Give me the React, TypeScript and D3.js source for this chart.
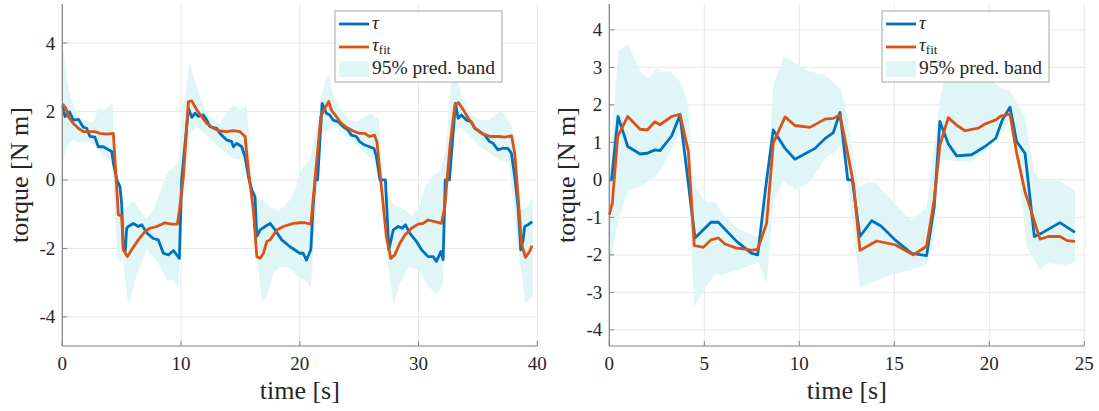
import React from 'react';
import * as d3 from 'd3';

type Pt = [number, number];

// left panel: 40 s run
const leftTau: Pt[] = [
  [0.03, 2.16], [0.23, 1.85], [0.6, 1.99], [0.93, 1.75], [1.35, 1.77], [1.77, 1.54], [2.05, 1.51],
  [2.33, 1.27], [2.75, 1.25], [3.03, 0.97], [3.45, 0.97], [4.16, 0.83], [4.3, 0.5], [4.6, 0],
  [4.86, -0.2], [5.0, -0.7], [5.14, -2.04], [5.3, -2.09], [5.42, -1.41], [5.56, -1.36], [5.98, -1.27],
  [6.4, -1.36], [6.68, -1.31], [7.16, -1.56], [7.66, -1.71], [8.08, -1.75], [8.51, -2.14], [8.93, -2.19],
  [9.36, -2.06], [9.86, -2.29], [10.05, 0], [10.62, 2.09], [10.9, 1.83], [11.18, 1.95], [11.46, 1.86],
  [11.88, 1.9], [12.16, 1.75], [12.44, 1.56], [13.0, 1.51], [13.28, 1.36], [13.84, 1.17], [14.26, 1.12],
  [14.41, 0.97], [14.69, 1.07], [15.11, 0.97], [15.39, 0.68], [15.67, 0.1], [15.95, -0.29], [16.23, -0.49],
  [16.38, -1.65], [16.66, -1.46], [17.08, -1.36], [17.5, -1.27], [17.92, -1.46], [18.48, -1.75],
  [19.18, -1.95], [20.0, -2.14], [20.28, -2.14], [20.56, -2.34], [20.93, -2.04], [21.12, -0.78],
  [21.3, 0], [21.5, 0], [21.88, 2.24], [22.24, 1.95], [22.52, 1.9], [22.8, 1.75], [23.22, 1.7],
  [23.64, 1.56], [24.06, 1.46], [24.34, 1.31], [24.76, 1.27], [25.04, 1.12], [25.46, 1.02], [25.88, 0.97],
  [26.25, 0.92], [26.45, 0.68], [26.75, 0], [27.21, 0], [27.5, -2.04], [27.87, -1.46], [28.29, -1.36],
  [28.62, -1.41], [28.9, -1.31], [29.27, -1.56], [29.83, -1.8], [30.25, -2.04], [30.81, -2.24],
  [31.23, -2.24], [31.51, -2.38], [31.88, -2.09], [32.07, -2.33], [32.25, 0], [32.6, 0], [33.11, 2.24],
  [33.33, 1.8], [33.61, 1.9], [34.03, 1.75], [34.45, 1.7], [34.73, 1.51], [35.15, 1.41], [35.57, 1.31],
  [35.99, 1.12], [36.27, 1.07], [36.69, 0.88], [37.03, 0.92], [37.53, 0.92], [37.82, 0.78], [38.1, 0.1],
  [38.38, -0.78], [38.61, -2.04], [38.8, -1.75], [38.94, -1.36], [39.22, -1.31], [39.57, -1.22],
];

const leftFit: Pt[] = [
  [0.03, 2.22], [0.31, 2.09], [0.51, 1.85], [0.93, 1.65], [1.35, 1.51], [1.77, 1.41], [2.33, 1.41],
  [2.75, 1.41], [3.17, 1.36], [3.73, 1.34], [4.3, 1.36], [4.72, -1.02], [5.0, -1.05], [5.14, -2.04],
  [5.48, -2.24], [5.84, -2.04], [6.4, -1.75], [6.96, -1.51], [7.38, -1.41], [7.94, -1.36], [8.65, -1.25],
  [9.21, -1.29], [9.69, -1.29], [9.86, -0.9], [10.2, 0.1], [10.62, 2.29], [10.9, 2.31], [11.32, 2.05],
  [11.74, 1.85], [12.16, 1.65], [12.72, 1.51], [13.28, 1.43], [13.84, 1.41], [14.41, 1.44], [14.97, 1.41],
  [15.39, 1.27], [15.67, 0.29], [16.09, -0.88], [16.38, -2.24], [16.66, -2.29], [16.94, -2.14],
  [17.22, -1.8], [17.5, -1.75], [18.06, -1.46], [18.62, -1.36], [19.46, -1.27], [20.0, -1.25],
  [20.42, -1.25], [20.93, -1.29], [21.2, -0.29], [21.77, 1.85], [22.1, 2.09], [22.44, 2.29], [22.66, 2.04],
  [23.08, 1.85], [23.5, 1.65], [24.06, 1.51], [24.62, 1.41], [25.04, 1.36], [25.46, 1.36], [25.88, 1.27],
  [26.3, 1.31], [26.5, 1.1], [26.87, -0.2], [27.29, -1.65], [27.66, -2.29], [28.0, -2.19], [28.43, -1.85],
  [28.85, -1.61], [29.41, -1.41], [29.97, -1.29], [30.39, -1.27], [30.81, -1.17], [31.37, -1.22],
  [31.93, -1.27], [32.21, -0.78], [32.64, 0.97], [33.06, 2.19], [33.36, 2.26], [33.78, 2.04], [34.2, 1.8],
  [34.76, 1.51], [35.32, 1.36], [36.02, 1.27], [36.72, 1.27], [37.28, 1.25], [37.84, 1.29], [38.1, 0.78],
  [38.45, -0.78], [38.66, -1.85], [39.0, -2.26], [39.35, -2.09], [39.55, -1.92],
];

const leftUpper: Pt[] = [
  [0.03, 3.95], [0.37, 2.95], [0.65, 2.51], [1.07, 2.07], [1.49, 1.78], [2.05, 1.73], [2.61, 1.68],
  [3.03, 2.09], [3.59, 2.05], [4.24, 2.25], [4.38, 0.58], [4.72, -0.29], [5.0, -0.88], [5.42, -0.78],
  [5.98, -0.63], [6.54, -0.88], [7.1, -1.12], [7.66, -0.88], [8.22, -0.39], [8.79, 0.19], [9.49, 0.39],
  [9.86, 0.58], [10.2, 2.04], [10.7, 3.46], [11.04, 3.02], [11.6, 2.43], [12.16, 1.95], [12.72, 1.75],
  [13.28, 1.65], [13.84, 1.95], [14.41, 2.19], [14.97, 2.04], [15.53, 2.19], [15.95, 0.1], [16.38, -0.58],
  [16.94, -0.58], [17.5, -0.78], [18.06, -0.92], [18.62, -0.78], [19.18, -0.58], [19.7, -0.2],
  [20.0, 0.2], [20.28, 0.39], [20.84, 0.58], [21.6, 1.95], [22.02, 2.77], [22.44, 3.12], [22.86, 2.43],
  [23.42, 2.09], [24.12, 1.75], [24.82, 1.7], [25.38, 1.85], [25.94, 1.95], [26.36, 1.8], [26.65, 1.85],
  [26.93, 0.19], [27.35, -0.39], [27.91, -0.73], [28.34, -0.78], [28.9, -0.88], [29.46, -1.07],
  [30.02, -0.78], [30.58, -0.19], [31.14, 0.1], [31.84, 0.29], [32.26, 0.78], [32.82, 3.1], [33.25, 2.92],
  [33.67, 2.43], [34.23, 1.99], [35.08, 1.75], [35.92, 1.75], [36.62, 1.95], [37.04, 1.99], [37.88, 1.56],
  [38.16, 0.58], [38.58, -0.88], [39.14, -0.78], [39.61, -0.49],
];

const leftLower: Pt[] = [
  [0.03, 0.49], [0.37, 0.97], [0.93, 1.17], [1.49, 1.09], [2.33, 1.12], [2.89, 0.97], [3.45, 0.68],
  [4.16, 0.58], [4.63, -2.14], [4.86, -2.43], [5.1, -2.3], [5.56, -3.65], [5.98, -3.11], [6.54, -2.53],
  [7.1, -2.04], [7.94, -2.34], [8.79, -2.92], [9.35, -2.92], [9.77, -3.16], [9.92, -2.14], [10.26, 0],
  [10.76, 1.36], [11.32, 1.56], [12.16, 1.31], [13.28, 0.92], [14.41, 0.63], [15.25, 0.58], [15.5, 0.5],
  [16.09, -1.36], [16.52, -2.63], [16.8, -3.55], [17.22, -3.41], [17.78, -2.73], [18.34, -2.53],
  [19.18, -2.58], [20.0, -2.87], [20.42, -2.92], [20.93, -3.16], [21.4, -0.78], [21.8, 1.36], [22.4, 1.46],
  [22.97, 1.6], [23.81, 1.31], [24.93, 0.97], [25.78, 0.68], [26.6, 0.58], [27.35, -2.34], [27.91, -3.65],
  [28.34, -3.11], [29.18, -2.53], [30.02, -2.63], [30.86, -3.11], [31.56, -3.36], [32.04, -3.07],
  [32.26, -1.17], [32.82, 1.27], [33.39, 1.56], [34.23, 1.31], [35.36, 0.92], [36.76, 0.58], [37.6, 0.53],
  [38.44, -2.14], [39.0, -3.6], [39.61, -3.41],
];

// right panel: 25 s run
const rightTau: Pt[] = [
  [0, 0], [0.12, 0], [0.46, 1.69], [0.97, 0.89], [1.62, 0.69], [2.0, 0.71], [2.4, 0.8], [2.67, 0.78],
  [3.28, 1.17], [3.72, 1.73], [4.51, -1.55], [5.35, -1.13], [5.74, -1.13], [6.7, -1.64], [7.49, -1.96],
  [7.81, -2.0], [8.28, 0], [8.63, 1.33], [9.25, 0.84], [9.77, 0.55], [10.83, 0.84], [11.35, 1.1],
  [11.79, 1.26], [12.14, 1.8], [12.55, 0], [12.79, 0], [13.19, -1.51], [13.81, -1.09], [14.3, -1.23],
  [15.04, -1.6], [15.91, -1.96], [16.7, -2.02], [17.1, -0.71], [17.4, 1.56], [17.84, 0.96], [18.28, 0.64],
  [19.07, 0.67], [19.77, 0.89], [20.34, 1.11], [20.69, 1.6], [21.09, 1.94], [21.44, 1.02], [21.88, 0.71],
  [22.37, -1.51], [22.76, -1.42], [23.72, -1.14], [24.51, -1.4],
];

const rightFit: Pt[] = [
  [0, -0.93], [0.16, -0.62], [0.44, 1.16], [0.97, 1.69], [1.62, 1.35], [2.0, 1.33], [2.4, 1.55],
  [2.67, 1.47], [3.28, 1.69], [3.72, 1.75], [4.16, 0.76], [4.47, -1.75], [4.95, -1.8], [5.35, -1.6],
  [5.74, -1.55], [6.09, -1.71], [6.7, -1.82], [7.23, -1.85], [7.49, -1.88], [7.81, -1.85], [8.28, -1.16],
  [8.63, 0.98], [9.25, 1.68], [9.77, 1.45], [10.56, 1.4], [11.35, 1.62], [11.79, 1.64], [12.14, 1.73],
  [12.58, 0.62], [12.85, -0.1], [13.19, -1.88], [14.07, -1.63], [15.04, -1.73], [16.0, -2.0],
  [16.7, -1.77], [17.1, -0.53], [17.4, 0.92], [17.84, 1.66], [18.28, 1.46], [18.72, 1.31], [19.42, 1.38],
  [19.77, 1.49], [20.34, 1.6], [20.6, 1.7], [21.09, 1.75], [21.44, 0.71], [21.88, -0.32], [22.67, -1.58],
  [23.1, -1.51], [23.72, -1.51], [24.1, -1.62], [24.51, -1.64],
];

const rightUpper: Pt[] = [
  [0, 0.1], [0.47, 3.42], [1.0, 3.63], [1.62, 2.89], [2.05, 2.71], [2.49, 2.98], [2.75, 2.89],
  [3.19, 2.89], [3.72, 2.62], [4.14, 2.05], [4.42, -0.09], [5.04, -0.58], [5.56, -0.58], [6.09, -0.98],
  [6.77, -1.29], [7.3, -1.42], [7.83, -1.51], [8.28, -0.5], [8.63, 2.52], [9.16, 3.29], [9.95, 3.06],
  [10.56, 2.89], [11.35, 2.8], [12.14, 2.44], [12.4, 2.04], [13.1, -0.2], [13.6, -0.06], [14.07, -0.1],
  [15.04, -0.64], [15.9, -1.08], [16.7, -0.73], [17.1, 0.9], [17.4, 2.13], [17.66, 2.71], [18.37, 2.93],
  [19.6, 2.84], [20.5, 2.49], [21.09, 2.36], [21.88, 1.69], [22.37, 0.2], [22.76, -0.03], [23.72, -0.03],
  [24.51, -0.27],
];

const rightLower: Pt[] = [
  [0, -2.36], [0.47, -1.07], [1.0, -0.28], [1.54, -0.18], [2.4, 0.05], [2.75, 0.3], [3.19, 0.75],
  [3.72, 1.3], [4.1, 0.3], [4.47, -3.38], [5.0, -2.9], [5.56, -2.51], [5.8, -2.55], [6.77, -2.4],
  [7.3, -2.3], [7.83, -2.2], [8.28, -2.76], [8.63, -0.58], [9.16, -0.04], [9.86, -0.27], [10.56, -0.04],
  [11.44, 0.62], [11.9, 0.75], [12.14, 0.9], [12.5, 0.3], [13.19, -2.89], [13.98, -2.7], [15.04, -2.49],
  [15.9, -2.4], [16.7, -2.27], [17.1, -1.5], [17.4, 0.53], [17.84, 0.53], [18.37, 0.49], [19.07, 0.49],
  [19.77, 0.76], [20.34, 1.02], [21.09, 1.64], [21.44, 0.8], [21.97, -1.78], [22.67, -2.4], [23.1, -2.22],
  [23.98, -2.27], [24.51, -2.2],
];

const leftXTicks = [0, 10, 20, 30, 40];
const leftYTicks = [-4, -2, 0, 2, 4];
const rightXTicks = [0, 5, 10, 15, 20, 25];
const rightYTicks = [-4, -3, -2, -1, 0, 1, 2, 3, 4];

const legendLabels = ['τ', 'fit', '95% pred. band'];

const BLUE = '#0072BD';
const ORANGE = '#D95319';
const BAND = '#e0f5f5';
const GRID = '#e6e6e6';
const AXIS = '#808080';
const TEXT = '#262626';
const FONT = "'Liberation Serif', 'Times New Roman', 'DejaVu Serif', Times, serif";

type PanelProps = {
  x0: number;
  x1: number;
  xDomain: [number, number];
  yDomain: [number, number];
  xTicks: number[];
  yTicks: number[];
  tau: Pt[];
  fit: Pt[];
  upper: Pt[];
  lower: Pt[];
  legendX: number;
  labelX: number;
};

function Panel(p: PanelProps) {
  const top = 4;
  const bottom = 346;
  const x = d3.scaleLinear().domain(p.xDomain).range([p.x0, p.x1]);
  const y = d3.scaleLinear().domain(p.yDomain).range([bottom, top]);
  const line = d3
    .line<Pt>()
    .x((d) => x(d[0]))
    .y((d) => y(d[1]));
  const band = line(p.upper.concat(p.lower.slice().reverse())) + 'Z';
  const lx = p.legendX;

  return (
    <g style={{ fontFamily: FONT }}>
      {p.xTicks.map((t) => (
        <line key={'gx' + t} x1={x(t)} x2={x(t)} y1={top} y2={bottom} stroke={GRID} />
      ))}
      {p.yTicks.map((t) => (
        <line key={'gy' + t} x1={p.x0} x2={p.x1} y1={y(t)} y2={y(t)} stroke={GRID} />
      ))}
      <path d={band} fill={BAND} stroke="none" />
      <path d={line(p.tau) || ''} fill="none" stroke={BLUE} strokeWidth={2.8} strokeLinejoin="round" />
      <path d={line(p.fit) || ''} fill="none" stroke={ORANGE} strokeWidth={2.8} strokeLinejoin="round" />

      <line x1={p.x0} x2={p.x0} y1={top} y2={bottom} stroke={AXIS} strokeWidth={1.2} />
      <line x1={p.x0} x2={p.x1} y1={bottom} y2={bottom} stroke={AXIS} strokeWidth={1.2} />
      {p.xTicks.map((t) => (
        <g key={'tx' + t}>
          <line x1={x(t)} x2={x(t)} y1={bottom} y2={bottom - 5} stroke={AXIS} />
          <text x={x(t)} y={370} textAnchor="middle" fontSize={19} fill={TEXT}>
            {t}
          </text>
        </g>
      ))}
      {p.yTicks.map((t) => (
        <g key={'ty' + t}>
          <line x1={p.x0} x2={p.x0 + 5} y1={y(t)} y2={y(t)} stroke={AXIS} />
          <text x={p.x0 - 7} y={y(t) + 6.5} textAnchor="end" fontSize={19} fill={TEXT}>
            {t < 0 ? '-' + Math.abs(t) : t}
          </text>
        </g>
      ))}
      <text x={(p.x0 + p.x1) / 2} y={399} textAnchor="middle" fontSize={26} fill={TEXT}>
        time [s]
      </text>
      <text
        transform={`translate(${p.labelX},${(top + bottom) / 2}) rotate(-90)`}
        textAnchor="middle"
        fontSize={26}
        fill={TEXT}
      >
        torque [N m]
      </text>

      <rect x={lx} y={11} width={167} height={71} fill="#fff" stroke="#a6a6a6" strokeWidth={1} />
      <line x1={lx + 4} x2={lx + 34} y1={24} y2={24} stroke={BLUE} strokeWidth={2.8} />
      <text x={lx + 37} y={29} fontSize={19} fontStyle="italic" fill={TEXT}>
        {legendLabels[0]}
      </text>
      <line x1={lx + 4} x2={lx + 34} y1={47} y2={47} stroke={ORANGE} strokeWidth={2.8} />
      <text x={lx + 37} y={51} fontSize={19} fill={TEXT}>
        <tspan fontStyle="italic">{legendLabels[0]}</tspan>
        <tspan fontSize={13} dy={3}>
          {legendLabels[1]}
        </tspan>
      </text>
      <rect x={lx + 4} y={61} width={30} height={16} fill={BAND} />
      <text x={lx + 37} y={74} fontSize={19.5} fill={TEXT}>
        {legendLabels[2]}
      </text>
    </g>
  );
}

export default function App() {
  return (
    <svg
      width={1099}
      height={411}
      style={{ position: 'absolute', left: 0, top: 0, background: '#fff' }}
    >
      <Panel
        x0={62.3}
        x1={537.3}
        xDomain={[0, 40]}
        yDomain={[-4.85, 5.14]}
        xTicks={leftXTicks}
        yTicks={leftYTicks}
        tau={leftTau}
        fit={leftFit}
        upper={leftUpper}
        lower={leftLower}
        legendX={335}
        labelX={28}
      />
      <Panel
        x0={609.3}
        x1={1084.3}
        xDomain={[0, 25]}
        yDomain={[-4.43, 4.69]}
        xTicks={rightXTicks}
        yTicks={rightYTicks}
        tau={rightTau}
        fit={rightFit}
        upper={rightUpper}
        lower={rightLower}
        legendX={882}
        labelX={575}
      />
    </svg>
  );
}
